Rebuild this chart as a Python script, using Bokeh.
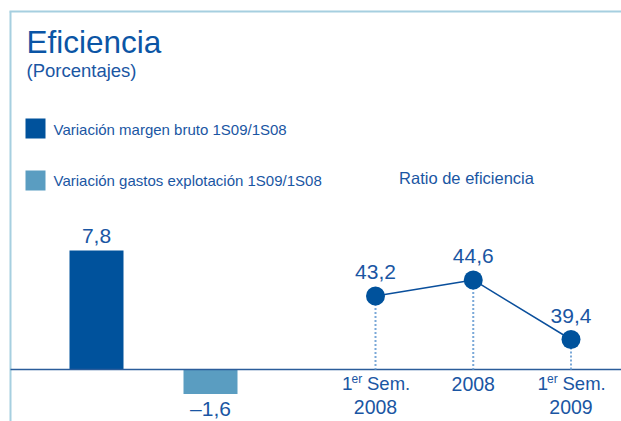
from bokeh.plotting import figure
from bokeh.models import Range1d, ColumnDataSource
from bokeh.core.properties import value
from bokeh.embed import file_html
from bokeh.resources import INLINE

# ---------------- data ----------------
bar_names = ["Variación margen bruto 1S09/1S08", "Variación gastos explotación 1S09/1S08"]
bar_values = [7.8, -1.6]
bar_labels = ["7,8", "–1,6"]
bar_colors = ["#00529c", "#5a9dc1"]

ratio_title = "Ratio de eficiencia"
periods_line1 = ["1", "", "1"]
periods_sup = ["er", "", "er"]
periods_rest = ["Sem.", "2008", "Sem."]
periods_line2 = ["2008", "", "2009"]
ratio_values = [43.2, 44.6, 39.4]
ratio_labels = ["43,2", "44,6", "39,4"]

title = "Eficiencia"
subtitle = "(Porcentajes)"

# ---------------- layout ----------------
W, H = 621, 421
FONT = value("Liberation Sans")
TXT = "#1a56a3"

bx0 = -96 / 114.0
bx1 = bx0 + W / 114.0
by1 = 369 / 15.25
by0 = -(H - 369) / 15.25
lx0 = -375 / 97.75
lx1 = lx0 + W / 97.75
ly1 = 39.4 + 339 / 11.45
ly0 = 39.4 - (H - 339) / 11.45

def PX(X):  # screen x -> bar-x data
    return bx0 + X / W * (bx1 - bx0)

def PY(Y):  # screen y -> bar-y data
    return by1 - Y / H * (by1 - by0)

line_base = ly1 - 369 / H * (ly1 - ly0)

p = figure(width=W, height=H, output_backend="svg", toolbar_location=None,
           x_range=Range1d(bx0, bx1), y_range=Range1d(by0, by1),
           x_axis_type=None, y_axis_type=None, min_border=0)
p.outline_line_color = None
p.background_fill_color = "white"
p.border_fill_color = "white"
p.extra_x_ranges = {"lx": Range1d(lx0, lx1)}
p.extra_y_ranges = {"ly": Range1d(ly0, ly1)}

MID = "middle"

# frame lines
p.segment(x0=[PX(9), PX(10)], y0=[PY(11), PY(11)], x1=[PX(625), PX(10)], y1=[PY(11), PY(425)],
          line_color="#a6cfe0", line_width=2)

# title
p.text(x=[PX(26)], y=[PY(41.5)], text=[title], text_font=FONT, text_font_size="31.5px",
       text_color="#0b55a5", text_baseline=MID)
p.text(x=[PX(26)], y=[PY(70)], text=[subtitle], text_font=FONT, text_font_size="18.5px",
       text_color=TXT, text_baseline=MID)

# legend
p.quad(left=[PX(25), PX(25)], right=[PX(45), PX(45)], top=[PY(118), PY(170)],
       bottom=[PY(138), PY(190)], fill_color=bar_colors, line_color=None)
p.text(x=[PX(53), PX(53)], y=[PY(128.5), PY(180)], text=bar_names, text_font=FONT,
       text_font_size="15px", text_color=TXT, text_baseline=MID)

p.text(x=[PX(466)], y=[PY(177)], text=[ratio_title], text_font=FONT, text_font_size="16.5px",
       text_color=TXT, text_baseline=MID, text_align="center")

# bars
bsrc = ColumnDataSource(dict(x=list(range(len(bar_values))), v=bar_values,
                             c=bar_colors, lab=bar_labels,
                             off=[-14.5 if v >= 0 else 14.5 for v in bar_values]))
p.vbar(x="x", top="v", bottom=0, width=54 / 114.0, fill_color="c", line_color=None, source=bsrc)
p.text(x="x", y="v", text="lab", y_offset="off", source=bsrc, text_font=FONT,
       text_font_size="21px", text_color=TXT, text_align="center", text_baseline=MID)

# baseline
p.segment(x0=[PX(10)], y0=[0], x1=[PX(625)], y1=[0], line_color="#2b5c9a", line_width=1.5)

# ratio line
idx = list(range(len(ratio_values)))
lsrc = ColumnDataSource(dict(x=idx, v=ratio_values, lab=ratio_labels,
                             base=[line_base] * len(idx)))
p.segment(x0="x", y0="v", x1="x", y1="base", source=lsrc, x_range_name="lx", y_range_name="ly",
          line_color="#7aa8d8", line_width=2, line_dash="2 2")
p.line(x="x", y="v", source=lsrc, x_range_name="lx", y_range_name="ly",
       line_color="#0a4f9c", line_width=1.5)
p.scatter(x="x", y="v", source=lsrc, x_range_name="lx", y_range_name="ly",
          size=19, fill_color="#00529c", line_color=None)
p.text(x="x", y="v", text="lab", source=lsrc, x_range_name="lx", y_range_name="ly",
       y_offset=-23.5, text_font=FONT, text_font_size="21px", text_color=TXT,
       text_align="center", text_baseline=MID)

# category labels
semi = [i for i in idx if periods_line1[i]]
full = [i for i in idx if not periods_line1[i]]
ssrc = ColumnDataSource(dict(x=semi, base=[line_base] * len(semi),
                             l1=[periods_line1[i] for i in semi],
                             sup=[periods_sup[i] for i in semi],
                             rest=[periods_rest[i] for i in semi],
                             l2=[periods_line2[i] for i in semi]))
fsrc = ColumnDataSource(dict(x=full, base=[line_base] * len(full),
                             rest=[periods_rest[i] for i in full]))
common = dict(x_range_name="lx", y_range_name="ly", text_font=FONT, text_color=TXT,
              text_baseline=MID)
p.text(x="x", y="base", text="l1", source=ssrc, x_offset=-33.5, y_offset=14,
       text_font_size="19px", text_align="left", **common)
p.text(x="x", y="base", text="sup", source=ssrc, x_offset=-24, y_offset=9,
       text_font_size="12px", text_align="left", **common)
p.text(x="x", y="base", text="rest", source=ssrc, x_offset=-8.5, y_offset=14,
       text_font_size="18.5px", text_align="left", **common)
p.text(x="x", y="base", text="l2", source=ssrc, y_offset=37.5,
       text_font_size="19.5px", text_align="center", **common)
p.text(x="x", y="base", text="rest", source=fsrc, y_offset=14,
       text_font_size="19.5px", text_align="center", **common)

open("out.html", "w").write(file_html(p, INLINE))
